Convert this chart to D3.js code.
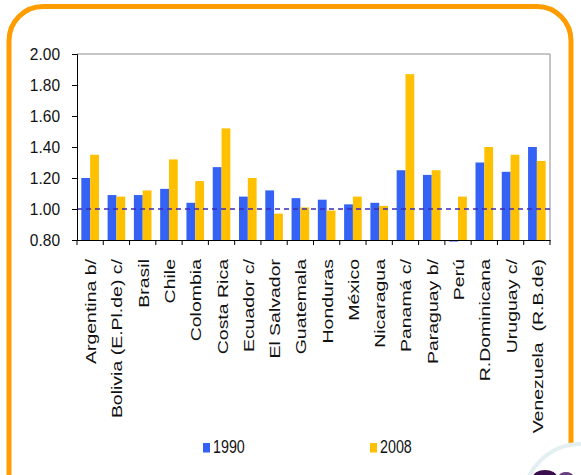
<html>
<head>
<meta charset="utf-8">
<style>
  body { margin: 0; background: #fff; }
  text { font-family: "Liberation Sans", Arial, sans-serif; fill: #000; }
</style>
</head>
<body>
<script src="https://d3js.org/d3.v7.min.js"></script>
<script>

    var categories = ["Argentina b/", "Bolivia (E.Pl.de) c/", "Brasil", "Chile", "Colombia",
        "Costa Rica", "Ecuador c/", "El Salvador", "Guatemala", "Honduras", "México",
        "Nicaragua", "Panamá c/", "Paraguay b/", "Perú", "R.Dominicana", "Uruguay c/",
        "Venezuela  (R.B.de)"];
    var seriesNames = ["1990", "2008"];
    var v1990 = [1.20, 1.09, 1.09, 1.13, 1.04, 1.27, 1.08, 1.12, 1.07, 1.06, 1.03, 1.04, 1.25, 1.22, 0.79, 1.30, 1.24, 1.40];
    var v2008 = [1.35, 1.08, 1.12, 1.32, 1.18, 1.52, 1.20, 0.97, 1.01, 0.99, 1.08, 1.02, 1.87, 1.25, 1.08, 1.40, 1.35, 1.31];
    var yTicks = [0.80, 1.00, 1.20, 1.40, 1.60, 1.80, 2.00];
    var refValue = 1.00;

    var colors = { "1990": "#3362f5", "2008": "#ffc000" };

    var W = 581, H = 475;
    var plotL = 77, plotR = 550, plotT = 54, plotB = 240;

    var svg = d3.select("body").append("svg")
        .attr("width", W)
        .attr("height", H);

    // orange rounded frame (bottom edge runs off the page)
    svg.append("rect")
        .attr("x", 9).attr("y", 6.5)
        .attr("width", 562).attr("height", 540)
        .attr("rx", 34).attr("ry", 34)
        .style("fill", "none")
        .style("stroke", "#ff9c00")
        .style("stroke-width", 5);

    // logo circle in the lower right corner
    svg.append("circle")
        .attr("cx", 581).attr("cy", 502).attr("r", 58)
        .style("fill", "#fff")
        .style("stroke", "#e3eff2")
        .style("stroke-width", 4);
    svg.append("ellipse")
        .attr("cx", 545).attr("cy", 477).attr("rx", 12).attr("ry", 7)
        .style("fill", "#3b0f4f");
    svg.append("ellipse")
        .attr("cx", 566).attr("cy", 476).attr("rx", 7).attr("ry", 4)
        .style("fill", "#6a3d80");

    var x = d3.scaleBand()
        .domain(categories)
        .range([plotL, plotR])
        .paddingInner(0.33)
        .paddingOuter(0.165);

    var x1 = d3.scaleBand()
        .domain(seriesNames)
        .range([0, x.bandwidth()]);

    var y = d3.scaleLinear()
        .domain([0.80, 2.00])
        .range([plotB, plotT]);

    // frame: top and right in grey
    svg.append("path")
        .attr("d", "M" + plotL + "," + plotT + "H" + plotR + "V" + plotB)
        .style("fill", "none")
        .style("stroke", "#8c8c8c")
        .style("stroke-width", 1);

    // bars
    var rows = categories.map(function(c, i) {
        return { cat: c, values: [{ key: "1990", v: v1990[i] }, { key: "2008", v: v2008[i] }] };
    });

    var groups = svg.append("g").selectAll("g").data(rows)
        .enter().append("g")
        .attr("transform", function(d) { return "translate(" + x(d.cat) + ",0)"; });

    groups.selectAll("rect").data(function(d) { return d.values; })
        .enter().append("rect")
        .attr("x", function(d) { return x1(d.key); })
        .attr("y", function(d) { return Math.min(y(d.v), y(0.80)); })
        .attr("width", x1.bandwidth())
        .attr("height", function(d) { return Math.abs(y(0.80) - y(d.v)); })
        .style("fill", function(d) { return colors[d.key]; });

    // reference line at 1.00
    svg.append("line")
        .attr("x1", plotL).attr("x2", plotR)
        .attr("y1", y(refValue)).attr("y2", y(refValue))
        .style("stroke", "#3a2bb8")
        .style("stroke-width", 1.6)
        .style("stroke-dasharray", "5,4");

    // y axis
    var yAxis = svg.append("g")
        .attr("transform", "translate(" + plotL + ",0)")
        .call(d3.axisLeft(y).tickValues(yTicks).tickSize(5).tickPadding(3).tickFormat(d3.format(".2f")));
    yAxis.select(".domain").style("stroke", "#000");
    yAxis.selectAll(".tick line").style("stroke", "#000");
    yAxis.selectAll(".tick text")
        .style("font-size", "15.5px")
        .style("fill", "#111")
        .attr("dy", null)
        .attr("x", null)
        .attr("text-anchor", "end")
        .attr("transform", "translate(-17,5.9) scale(1,1.08)");

    // x axis
    var xAxis = svg.append("g")
        .attr("transform", "translate(0," + plotB + ")")
        .call(d3.axisBottom(x).tickSize(0).tickSizeOuter(0));
    xAxis.select(".domain").style("stroke", "#000");

    // tick marks between categories
    var step = x.step();
    xAxis.selectAll(".sep").data(d3.range(categories.length + 1))
        .enter().append("line")
        .attr("class", "sep")
        .attr("x1", function(i) { return plotL + i * step; })
        .attr("x2", function(i) { return plotL + i * step; })
        .attr("y1", 0).attr("y2", 5)
        .style("stroke", "#000");

    xAxis.selectAll(".tick text")
        .style("font-size", "15px")
        .style("fill", "#111")
        .style("white-space", "pre")
        .attr("text-anchor", "end")
        .attr("y", null)
        .attr("dy", null)
        .attr("transform", "translate(6,19) rotate(-90) scale(1.3,1)");

    // legend
    var legend = svg.append("g").selectAll("g").data(seriesNames)
        .enter().append("g")
        .attr("transform", function(d, i) { return "translate(" + (203 + i * 167) + ",443)"; });
    legend.append("rect")
        .attr("width", 7).attr("height", 9.5)
        .style("fill", function(d) { return colors[d]; });
    legend.append("text")
        .attr("transform", "translate(10,10.3) scale(1,1.25)")
        .style("font-size", "14.3px")
        .style("fill", "#111")
        .text(function(d) { return d; });

</script>
</body>
</html>
